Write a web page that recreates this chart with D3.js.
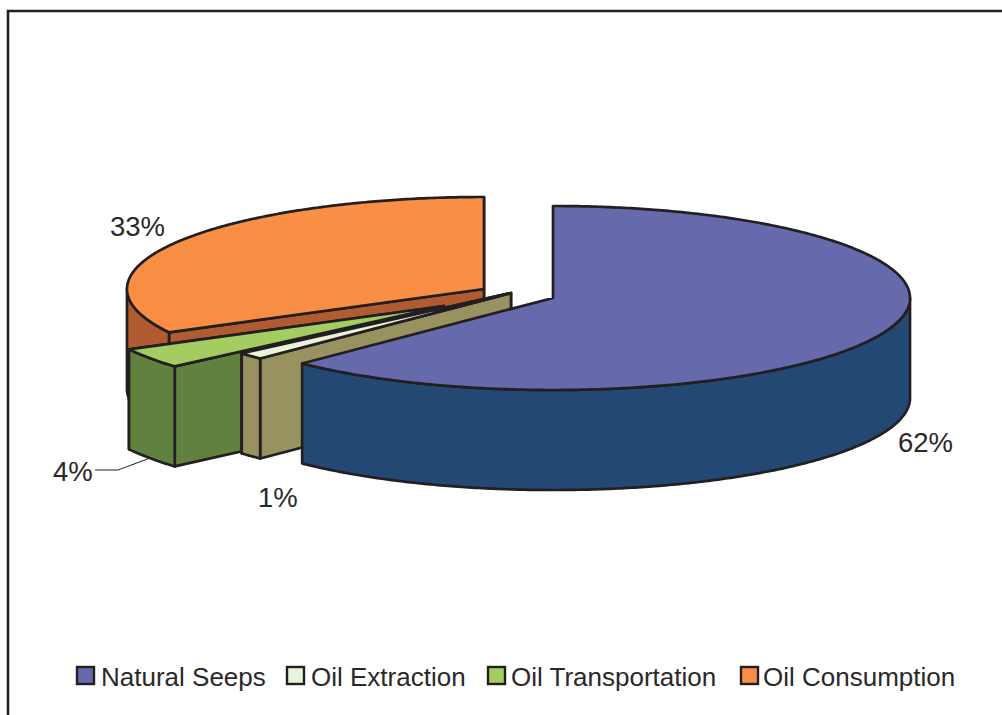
<!DOCTYPE html>
<html>
<head>
<meta charset="utf-8">
<script src="https://cdn.jsdelivr.net/npm/d3@7"></script>
<style>
  html, body { margin: 0; padding: 0; background: #fff; overflow: hidden; }
  text { font-family: "Liberation Sans", Arial, sans-serif; fill: #2b2829; }
</style>
</head>
<body>
<div id="chart"></div>
<script>
var categories = ["Natural Seeps", "Oil Extraction", "Oil Transportation", "Oil Consumption"];
var shares = [62.4, 1.2, 3.6, 32.8];

var topColors = ["#666aad", "#e9f2db", "#a3cd60", "#f98f45"];
var sideColors = ["#244874", "#97925f", "#61813f", "#b15b31"];

var width = 1002, height = 715;
var rx = 357, ry = 92, depth = 100;
var ink = "#231f20";

// each wedge is pulled away by hand, the way the original chart has them
var apex = [[553, 298], [511, 293], [444, 306], [484, 289]];
// label anchor (start of text, baseline)
var labelPos = [[898, 452], [258, 507], [53, 481], [110, 236]];
var legendX = [77, 287, 488, 741];
var legendTextX = [101, 311, 511, 763];

var svg = d3.select("#chart").append("svg")
    .attr("width", width)
    .attr("height", height);

// frame, runs off the right and bottom of the page
svg.append("path")
    .attr("d", d3.line()([[8, height + 5], [8, 11], [width + 5, 11]]))
    .attr("fill", "none")
    .attr("stroke", ink)
    .attr("stroke-width", 2.6);

var pie = d3.pie().sort(null).value(function(d) { return d; });
var slices = pie(shares);

var xScale = d3.scaleLinear().domain([-1, 1]).range([-rx, rx]);
var yScale = d3.scaleLinear().domain([-1, 1]).range([-ry, ry]);

function rim(a, c, drop) {
    return [c[0] + xScale(Math.sin(a)), c[1] + yScale(-Math.cos(a)) + (drop || 0)];
}

function arcPoints(a0, a1, c, drop) {
    var n = Math.max(2, Math.ceil((a1 - a0) / 0.01));
    return d3.range(n + 1).map(function(i) {
        return rim(a0 + (a1 - a0) * i / n, c, drop);
    });
}

var line = d3.line();

function face(points, fill) {
    svg.append("path")
        .attr("d", line(points) + "Z")
        .attr("fill", fill)
        .attr("stroke", ink)
        .attr("stroke-width", 2.7)
        .attr("stroke-linejoin", "round");
}

function cut(a, c, fill) {
    var p = rim(a, c);
    face([c, p, [p[0], p[1] + depth], [c[0], c[1] + depth]], fill);
}

slices.map(function(s, i) { return i; }).reverse().forEach(function(i) {
    var s = slices[i], c = apex[i];
    // blue wedge is bigger than a half, its cut faces away from us
    if (s.endAngle - s.startAngle < Math.PI) {
        cut(s.endAngle, c, sideColors[i]);
        cut(s.startAngle, c, sideColors[i]);
    }
    // outer wall, only the part on the near side of the ellipse
    var a0 = Math.max(s.startAngle, Math.PI / 2);
    var a1 = Math.min(s.endAngle, Math.PI * 1.5);
    if (a1 > a0) {
        face(arcPoints(a0, a1, c).concat(arcPoints(a0, a1, c, depth).reverse()), sideColors[i]);
    }
    // top
    face([c].concat(arcPoints(s.startAngle, s.endAngle, c)), topColors[i]);
});

// percentages
svg.selectAll(".pct")
    .data(shares)
    .enter()
    .append("text")
    .attr("class", "pct")
    .attr("x", function(d, i) { return labelPos[i][0]; })
    .attr("y", function(d, i) { return labelPos[i][1]; })
    .attr("font-size", 27.5)
    .text(function(d) { return Math.round(d) + "%"; });

// leader for the 4% label
svg.append("path")
    .attr("d", line([[150, 458], [118, 470], [95, 470]]))
    .attr("fill", "none")
    .attr("stroke", ink)
    .attr("stroke-width", 1);

// legend
svg.selectAll(".swatch")
    .data(categories)
    .enter()
    .append("rect")
    .attr("class", "swatch")
    .attr("x", function(d, i) { return legendX[i]; })
    .attr("y", 667)
    .attr("width", 17)
    .attr("height", 17)
    .attr("fill", function(d, i) { return topColors[i]; })
    .attr("stroke", ink)
    .attr("stroke-width", 2.4);

svg.selectAll(".legend")
    .data(categories)
    .enter()
    .append("text")
    .attr("class", "legend")
    .attr("x", function(d, i) { return legendTextX[i]; })
    .attr("y", 686)
    .attr("font-size", 26)
    .text(function(d) { return d; });
</script>
</body>
</html>
